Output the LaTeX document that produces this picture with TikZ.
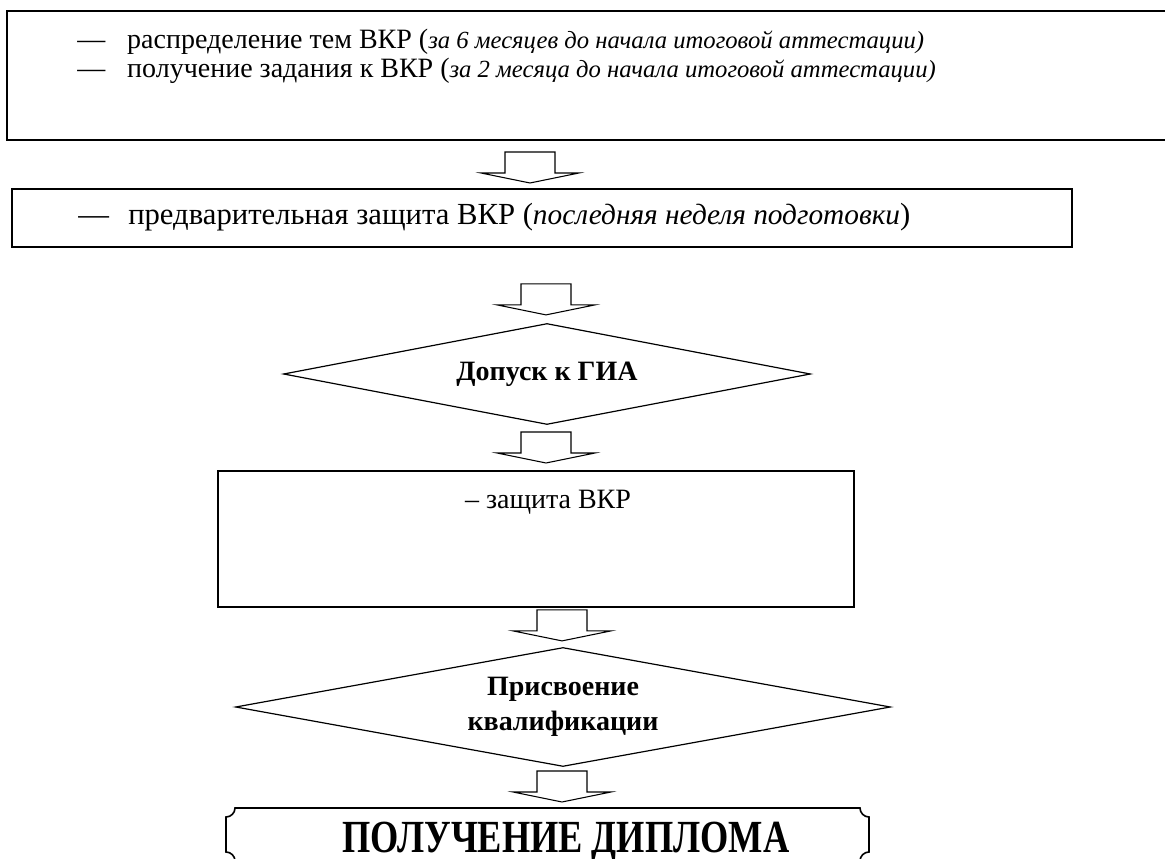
\documentclass[tikz,border=0pt]{standalone}
\usepackage{fontspec}
\setmainfont{Liberation Serif}
\usepackage{graphicx}
\usepackage{tikz}
\newcommand{\px}{0.75pt}
\newcommand{\dashwidth}{37.5pt}
\newcommand{\topfont}{\fontsize{21}{25}\selectfont}
\newcommand{\topit}{\fontsize{18.5}{22}\selectfont\itshape}
\newcommand{\prefont}{\fontsize{23}{27}\selectfont}
\newcommand{\preit}{\fontsize{22}{26}\selectfont\itshape}
\newcommand{\titlefont}{\fontsize{34.5}{40}\selectfont\bfseries}
\usetikzlibrary{calc,shapes.geometric,positioning}
\tikzset{
  x=0.75pt, y=-0.75pt,
  font=\fontsize{19.5}{24}\selectfont,
  rect/.style={draw,line width=1.2pt,shape=rectangle,inner sep=0},
  decision/.style={draw,line width=0.9pt,shape=diamond,shape aspect=5,inner sep=0,align=center,font=\fontsize{21}{26}\selectfont\bfseries},
  txt/.style={inner sep=0,anchor=base west},
  line/.style={draw,line width=1.2pt},
  barrow/.style={draw,line width=0.8pt,line join=miter},
}
\newcommand{\blockarrow}[1]{%
  \draw[barrow] ($(#1)+(-25,-31)$) -- ($(#1)+(-25,-10)$) -- ($(#1)+(-49,-10)$)
    -- (#1) -- ($(#1)+(49,-10)$) -- ($(#1)+(25,-10)$) -- ($(#1)+(25,-31)$) -- cycle;}

\begin{document}
\begin{tikzpicture}
  \useasboundingbox (0,0) rectangle (1165,859);
  \node (plan) [rect,anchor=north west,minimum width=1180*\px,minimum height=129*\px] at (6,10) {};
  \node (t1) [txt] at (77,49) {\topfont\makebox[\dashwidth][l]{—}распределение тем ВКР ({\topit за 6 месяцев до начала итоговой аттестации)}};
  \node (t2) [txt] at (77,78) {\topfont\makebox[\dashwidth][l]{—}получение задания к ВКР ({\topit за 2 месяца до начала итоговой аттестации)}};

  \node (pre) [rect,anchor=north west,minimum width=1060*\px,minimum height=58*\px] at (11,188) {};
  \node (t3) [txt] at (78,225) {\prefont\makebox[\dashwidth][l]{—}предварительная защита ВКР ({\preit последняя неделя подготовки})};

  \node (adm) [decision,minimum width=527*\px,minimum height=101*\px] at (547,374) {Допуск к ГИА};

  \node (def) [rect,anchor=north west,minimum width=636*\px,minimum height=136*\px] at (217,470) {};
  \node (t4) [inner sep=0,font=\fontsize{21}{26}\selectfont] at (548,502) {– защита ВКР};

  \node (qual) [decision,minimum width=655*\px,minimum height=119*\px] at (563,707) {Присвоение\\квалификации};

  \node (dipl) [inner sep=0,anchor=base] at (566,852) {\titlefont\scalebox{0.79}[1]{ПОЛУЧЕНИЕ ДИПЛОМА}};
  \draw[line] (226,817) arc[start angle=90,end angle=0,radius=9] -- (860,808)
    arc[start angle=180,end angle=90,radius=9] -- (869,852)
    arc[start angle=270,end angle=180,radius=9] -- (235,861)
    arc[start angle=0,end angle=-90,radius=9] -- cycle;

  \coordinate (a1) at ($(530,0 |- pre.north)+(0,-5)$);
  \coordinate (a2) at ($(546,0 |- adm.north)+(0,-8)$);
  \coordinate (a3) at ($(546,0 |- def.north)+(0,-7)$);
  \coordinate (a4) at ($(562,0 |- qual.north)+(0,-6)$);
  \coordinate (a5) at (562,802);
  \blockarrow{a1}
  \blockarrow{a2}
  \blockarrow{a3}
  \blockarrow{a4}
  \blockarrow{a5}
\end{tikzpicture}
\end{document}
